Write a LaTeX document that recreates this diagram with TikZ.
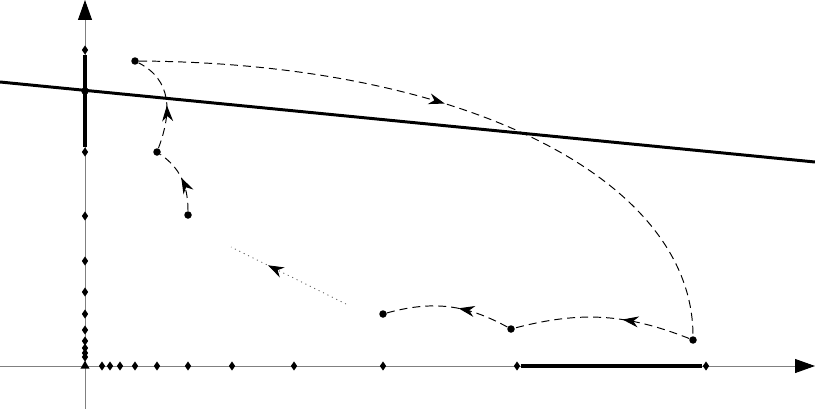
\documentclass[tikz,border=0pt]{standalone}
\usetikzlibrary{arrows.meta,shapes.geometric,decorations.markings}
\begin{document}
\begin{tikzpicture}[x=0.02cm,y=-0.02cm,
  axis/.style={black!50,line width=0.5pt},
  dot/.style={circle,fill,inner sep=0pt,minimum size=0.15cm},
  dmd/.style={diamond,fill,inner sep=0pt,minimum width=0.13cm,minimum height=0.19cm},
  orig/.style={regular polygon,regular polygon sides=3,fill,inner sep=0pt,minimum size=0.21cm},
  flow/.style={line width=0.55pt,dash pattern=on 0.16cm off 0.1cm},
  faint/.style={line width=0.5pt,black!60,dash pattern=on 0.6pt off 2.2pt},
  midarrow/.style={postaction={decorate},decoration={markings,mark=at position #1 with {\arrow{Stealth[length=0.32cm,width=0.22cm,color=black]}}}},
  bold/.style={line width=2.2pt},
  bigarrow/.style={-{Triangle[length=0.4cm,width=0.28cm,color=black]}}]
\useasboundingbox (0,0) rectangle (815,409);

% axes
\coordinate (xs) at (0,366);
\coordinate (xe) at (815,366);
\coordinate (ys) at (85,409);
\coordinate (ye) at (85,0);
\draw[axis,bigarrow] (xs) -- (xe);
\draw[axis,bigarrow] (ys) -- (ye);

% diamonds on x axis
\foreach \i/\x in {1/102,2/110,3/120,4/135,5/157,6/188,7/232,8/294,9/383,10/517,11/706}
  \node[dmd] (xd\i) at (\x,366) {};
% diamonds on y axis
\foreach \i/\y in {1/50,2/152,3/216,4/261,5/292,6/314,7/330,8/341,9/348,10/353,11/357}
  \node[dmd] (yd\i) at (85,\y) {};

\draw[bold] (yd1) -- (yd2);
\draw[bold] (xd10) -- (xd11);

\node[orig] (o) at (85,366) {};

% straight line
\coordinate (la) at (0,82);
\coordinate (lb) at (815,162);
\draw[line width=1.7pt] (la) -- (lb);
\node[dot] (q) at (85,91) {};

% iterates
\node[dot] (p1) at (135,61) {};
\node[dot] (p2) at (157,152) {};
\node[dot] (p3) at (188,215) {};
\node[dot] (p4) at (383,314) {};
\node[dot] (p5) at (511,329) {};
\node[dot] (p6) at (693,340) {};

\draw[flow,midarrow=0.46] (p1) .. controls (462,63) and (693,178) .. (p6);
\draw[flow,midarrow=0.39] (p6) to[bend right=18] (p5);
\draw[flow,midarrow=0.42] (p5) to[bend right=22] (p4);
\coordinate (da) at (346,304);
\coordinate (db) at (231,247);
\draw[faint,midarrow=0.68] (da) -- (db);
\draw[flow,midarrow=0.52] (p3) .. controls (188,190) and (183,170) .. (p2);
\draw[flow,midarrow=0.45] (p2) .. controls (172,112) and (172,80) .. (p1);
\end{tikzpicture}
\end{document}
